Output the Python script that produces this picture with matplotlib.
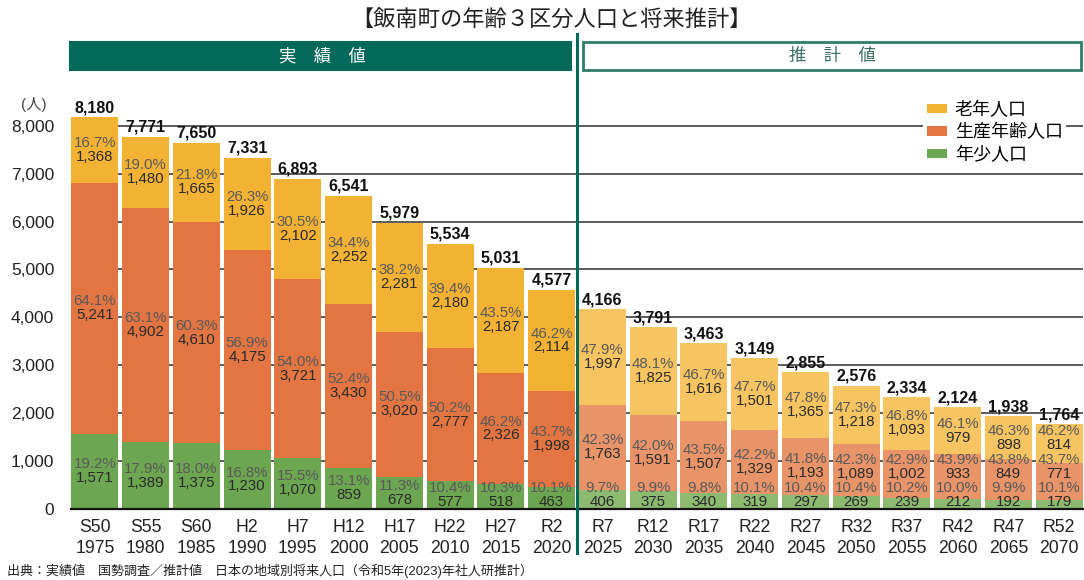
import numpy as np
import matplotlib.pyplot as plt
from matplotlib.patches import Rectangle, Patch

plt.rcParams['font.family'] = ['Liberation Sans', 'Noto Sans CJK JP', 'DejaVu Sans']

# Data
eras = ["S50", "S55", "S60", "H2", "H7", "H12", "H17", "H22", "H27", "R2",
        "R7", "R12", "R17", "R22", "R27", "R32", "R37", "R42", "R47", "R52"]
years = [1975, 1980, 1985, 1990, 1995, 2000, 2005, 2010, 2015, 2020,
         2025, 2030, 2035, 2040, 2045, 2050, 2055, 2060, 2065, 2070]
totals = [8180, 7771, 7650, 7331, 6893, 6541, 5979, 5534, 5031, 4577,
          4166, 3791, 3463, 3149, 2855, 2576, 2334, 2124, 1938, 1764]
elderly = [1368, 1480, 1665, 1926, 2102, 2252, 2281, 2180, 2187, 2114,
           1997, 1825, 1616, 1501, 1365, 1218, 1093, 979, 898, 814]
elderly_pct = [16.7, 19.0, 21.8, 26.3, 30.5, 34.4, 38.2, 39.4, 43.5, 46.2,
               47.9, 48.1, 46.7, 47.7, 47.8, 47.3, 46.8, 46.1, 46.3, 46.2]
working = [5241, 4902, 4610, 4175, 3721, 3430, 3020, 2777, 2326, 1998,
           1763, 1591, 1507, 1329, 1193, 1089, 1002, 933, 849, 771]
working_pct = [64.1, 63.1, 60.3, 56.9, 54.0, 52.4, 50.5, 50.2, 46.2, 43.7,
               42.3, 42.0, 43.5, 42.2, 41.8, 42.3, 42.9, 43.9, 43.8, 43.7]
young = [1571, 1389, 1375, 1230, 1070, 859, 678, 577, 518, 463,
         406, 375, 340, 319, 297, 269, 239, 212, 192, 179]
young_pct = [19.2, 17.9, 18.0, 16.8, 15.5, 13.1, 11.3, 10.4, 10.3, 10.1,
             9.7, 9.9, 9.8, 10.1, 10.4, 10.4, 10.2, 10.0, 9.9, 10.1]
n_actual = 10  # first 10 are 実績値

# Colours (actual / projected)
c_old = ('#F4B234', '#F7C462')
c_work = ('#E27541', '#E89468')
c_young = ('#6CA650', '#8CBA71')
teal = '#00695A'

fig = plt.figure(figsize=(10.84, 5.80), dpi=100)
ax = fig.add_axes([71 / 1084, 71 / 580, 1012 / 1084, 402.4 / 580])

x = np.arange(len(eras))
young = np.array(young)
working = np.array(working)
elderly = np.array(elderly)
idx = np.array([0 if i < n_actual else 1 for i in x])

w = 0.93
ax.bar(x, young, w, color=[c_young[k] for k in idx], zorder=2)
ax.bar(x, working, w, bottom=young, color=[c_work[k] for k in idx], zorder=2)
ax.bar(x, elderly, w, bottom=young + working, color=[c_old[k] for k in idx], zorder=2)

ax.set_xlim(-0.47, len(eras) - 1 + 0.47)
ax.set_ylim(0, 8400)
ax.set_yticks(np.arange(0, 8001, 1000))
ax.set_yticklabels([f"{v:,}" for v in range(0, 8001, 1000)], fontsize=12.5, color='#222222')
ax.yaxis.grid(True, color='#404040', linewidth=1.2, zorder=0)
ax.set_axisbelow(True)
ax.tick_params(axis='y', length=0, pad=12)
ax.set_xticks(x)
ax.set_xticklabels([f"{e}\n{y}" for e, y in zip(eras, years)],
                   fontsize=12.7, linespacing=1.3, color='#222222')
ax.tick_params(axis='x', length=0, pad=7)
for s in ['top', 'right', 'left']:
    ax.spines[s].set_visible(False)
ax.spines['bottom'].set_color('#111111')
ax.spines['bottom'].set_linewidth(1.6)
ax.spines['bottom'].set_zorder(5)


def pair(xi, yc, pct, val):
    ax.annotate(f"{pct:.1f}%", (xi, yc), xytext=(0, 5.0), textcoords='offset points',
                ha='center', va='center', fontsize=10.8, color='#5a5a5a', zorder=4)
    ax.annotate(f"{val:,}", (xi, yc), xytext=(0, -5.0), textcoords='offset points',
                ha='center', va='center', fontsize=10.8, color='#2b2b2b', zorder=4)


for i in x:
    yc_y = max(young[i] / 2, 290)
    yc_w = max(young[i] + working[i] / 2, 880)
    yc_o = max(young[i] + working[i] + elderly[i] / 2, yc_w + 600)
    pair(i, yc_y, young_pct[i], young[i])
    pair(i, yc_w, working_pct[i], working[i])
    pair(i, yc_o, elderly_pct[i], elderly[i])
    ax.annotate(f"{totals[i]:,}", (i, totals[i]), xytext=(0, 1.5), textcoords='offset points',
                ha='center', va='bottom', fontsize=11.5, fontweight='bold',
                color='#111111', zorder=4, annotation_clip=False)

# separator between actual and projected
sep_x = (71 + 1012 * (n_actual - 0.5 + 0.47) / (len(eras) - 1 + 0.94)) / 1084
fig.add_artist(plt.Line2D([sep_x, sep_x], [(580 - 553) / 580, (580 - 34) / 580],
                          color=teal, linewidth=2.2, zorder=6))

# header boxes
fig.add_artist(Rectangle((70 / 1084, (580 - 70) / 580), 501 / 1084, 28 / 580,
                         facecolor=teal, edgecolor=teal, linewidth=1.5))
fig.text(322 / 1084, (580 - 56) / 580, "実　績　値", ha='center', va='center',
         fontsize=12.5, color='white')
fig.add_artist(Rectangle((583 / 1084, (580 - 70) / 580), 498 / 1084, 28 / 580,
                         facecolor='white', edgecolor='#2F7D6E', linewidth=2))
fig.text(832 / 1084, (580 - 56) / 580, "推　計　値", ha='center', va='center',
         fontsize=12.5, color='#3a6f66')

# title, unit, source
fig.text(552 / 1084, (580 - 21) / 580, "【飯南町の年齢３区分人口と将来推計】",
         ha='center', va='center', fontsize=16, color='#222222')
fig.text(21 / 1084, (580 - 105) / 580, "(人)", ha='left', va='center',
         fontsize=11, color='#444444')
fig.text(7 / 1084, (580 - 571) / 580,
         "出典：実績値　国勢調査／推計値　日本の地域別将来人口（令和5年(2023)年社人研推計）",
         ha='left', va='center', fontsize=9.4, color='#222222')

# legend
handles = [Patch(facecolor=c_old[0]), Patch(facecolor=c_work[0]), Patch(facecolor=c_young[0])]
leg = fig.legend(handles, ["老年人口", "生産年齢人口", "年少人口"],
                 loc='upper left', bbox_to_anchor=(914 / 1084, (580 - 89) / 580),
                 fontsize=13, frameon=True, facecolor='white', edgecolor='none',
                 framealpha=1, handlelength=1.15, handleheight=0.45,
                 handletextpad=0.4, labelspacing=0.3, borderpad=0.2, fancybox=False)
leg.set_zorder(10)

fig.savefig('out.png', dpi=100)
